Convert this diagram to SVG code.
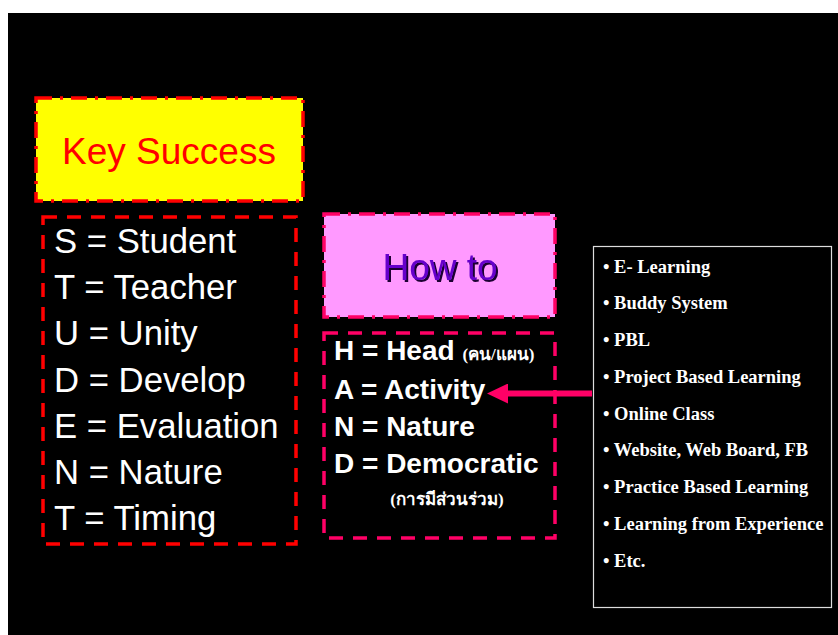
<svg xmlns="http://www.w3.org/2000/svg" width="838" height="635" viewBox="0 0 838 635">
<defs>
<style>
.sans{font-family:"Liberation Sans",Arial,sans-serif}
.serif{font-family:"Liberation Serif","Times New Roman",serif;font-weight:bold;fill:#fff;font-size:18.5px}
.thai{font-family:"Liberation Serif","Noto Sans","DejaVu Sans",serif;font-weight:bold;fill:#fff;font-size:17px}
.dashdot{stroke-dasharray:16 8 3 8;stroke-width:3.5}
.dash{stroke-dasharray:14 10;stroke-width:3.5;fill:none}
.w{fill:#fff}
</style>
<filter id="shadow" x="-10%" y="-20%" width="130%" height="150%">
<feDropShadow dx="2" dy="2" stdDeviation="0" flood-color="#1a0033" flood-opacity="1"/>
</filter>
<marker id="ah" markerWidth="22" markerHeight="20" refX="0" refY="10" orient="auto" markerUnits="userSpaceOnUse">
<path d="M0,0 L21,10 L0,20 Z" fill="#FF0066"/>
</marker>
</defs>
<rect x="0" y="0" width="838" height="635" fill="#fff"/>
<rect x="8" y="13" width="830" height="622" fill="#000"/>

<g id="key-success">
<rect x="36" y="98" width="267" height="103" fill="#FFFF00" stroke="#FF0000" class="dashdot"/>
<text x="169" y="164" text-anchor="middle" class="sans" font-size="37" fill="#FF0000">Key Success</text>
</g>

<g id="student">
<rect x="43" y="217" width="253" height="327" stroke="#FF0000" class="dash"/>
<g class="sans w" font-size="34.7">
<text x="54" y="253">S = Student</text>
<text x="54" y="299">T = Teacher</text>
<text x="54" y="345">U = Unity</text>
<text x="54" y="392">D = Develop</text>
<text x="54" y="438">E = Evaluation</text>
<text x="54" y="484">N = Nature</text>
<text x="54" y="530">T = Timing</text>
</g>
</g>

<g id="how-to">
<rect x="324" y="214" width="231" height="103" fill="#FF99FF" stroke="#FF0066" class="dashdot"/>
<text x="440" y="280" text-anchor="middle" class="sans" font-size="37" fill="#6600CC" filter="url(#shadow)">How to</text>
</g>

<g id="hand">
<rect x="324" y="333" width="231" height="205" stroke="#FF0066" class="dash"/>
<g class="sans w" font-size="28" font-weight="bold">
<text x="334" y="360">H = Head <tspan class="thai" font-size="17">(คน/แผน)</tspan></text>
<text x="334" y="399">A = Activity</text>
<text x="334" y="436">N = Nature</text>
<text x="334" y="473">D = Democratic</text>
</g>
<text x="447" y="505" text-anchor="middle" class="thai">(การมีส่วนร่วม)</text>
</g>

<g id="methods">
<rect x="593.5" y="246.5" width="238" height="361" fill="#000" stroke="#ddd" stroke-width="1.2"/>
<g class="serif">
<text x="603" y="273">• E- Learning</text>
<text x="603" y="309">• Buddy System</text>
<text x="603" y="346">• PBL</text>
<text x="603" y="383">• Project Based Learning</text>
<text x="603" y="420">• Online Class</text>
<text x="603" y="456">• Website, Web Board, FB</text>
<text x="603" y="493">• Practice Based Learning</text>
<text x="603" y="530">• Learning from Experience</text>
<text x="603" y="567">• Etc.</text>
</g>
</g>

<g id="connectors">
<line x1="592" y1="393.5" x2="508" y2="393.5" stroke="#FF0066" stroke-width="6" marker-end="url(#ah)"/>
</g>
</svg>
